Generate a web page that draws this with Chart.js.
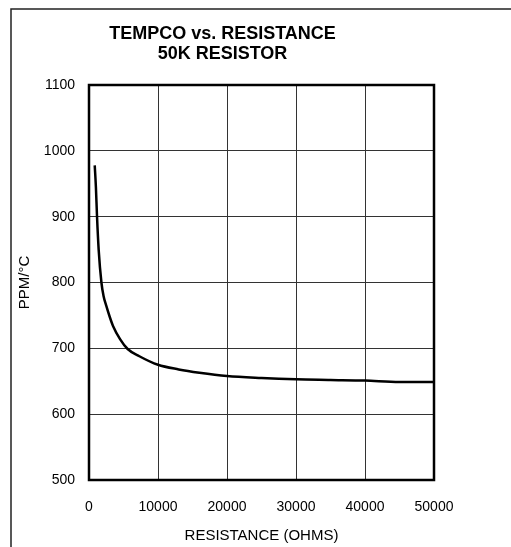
<!DOCTYPE html>
<html>
<head>
<meta charset="utf-8">
<script src="https://cdn.jsdelivr.net/npm/chart.js@4"></script>
<style>
  html, body { margin: 0; padding: 0; background: #fff; }
  #wrap { width: 511px; height: 547px; position: relative; }
</style>
</head>
<body>
<div id="wrap"><canvas id="tempcoChart" width="511" height="547"></canvas></div>
<script>
/** Tempco vs resistance, 50K resistor */

const resistanceOhms = [830, 1000, 1160, 1400, 1800, 2100, 2520, 3000, 3480, 4500, 5600, 7300,
  10000, 13000, 16000, 20000, 25000, 30000, 35000, 40000, 45000, 50000];
const tempcoPpm = [978, 945, 901, 850, 800, 780, 764, 748, 734, 714, 699, 688,
  675, 668, 663, 658, 655, 653, 652, 651, 649, 649];
const titleLines = ['TEMPCO vs. RESISTANCE', '50K RESISTOR'];
const xTitle = 'RESISTANCE (OHMS)';
const yTitle = 'PPM/°C';

const FONT = "'Liberation Sans', Arial, sans-serif";

// outer frame (top + left only) and thick plot box
const framePlugin = {
  id: 'frame',
  beforeDraw(chart) {
    const c = chart.ctx;
    c.save();
    c.strokeStyle = '#222';
    c.lineWidth = 1.5;
    c.beginPath();
    c.moveTo(11, 547);
    c.lineTo(11, 9);
    c.lineTo(511, 9);
    c.stroke();
    c.restore();
  },
  afterDatasetsDraw(chart) {
    const a = chart.chartArea;
    const c = chart.ctx;
    c.save();
    c.strokeStyle = '#000';
    c.lineWidth = 2.5;
    c.strokeRect(a.left, a.top, a.right - a.left, a.bottom - a.top);
    c.restore();
  }
};

new Chart(document.getElementById('tempcoChart'), {
  type: 'line',
  data: {
    datasets: [{
      data: resistanceOhms.map((x, i) => ({ x, y: tempcoPpm[i] })),
      borderColor: '#000',
      borderWidth: 2.5,
      pointRadius: 0,
      cubicInterpolationMode: 'monotone',
      fill: false
    }]
  },
  options: {
    responsive: false,
    animation: false,
    layout: { padding: { left: 11, top: 9, right: 77, bottom: 0 } },
    plugins: {
      legend: { display: false },
      tooltip: { enabled: false },
      title: {
        display: true,
        text: titleLines,
        color: '#000',
        font: { family: FONT, size: 18, weight: 'bold', lineHeight: '20px' },
        padding: { top: 15.5, bottom: 20.5 }
      }
    },
    scales: {
      x: {
        type: 'linear',
        min: 0,
        max: 50000,
        afterFit(s) { s.height = 67; },
        ticks: { stepSize: 10000, color: '#000', padding: 19, font: { family: FONT, size: 14 }, callback: v => String(v) },
        grid: { color: '#333', lineWidth: 1, drawTicks: false },
        border: { display: false },
        title: { display: true, text: xTitle, color: '#000', font: { family: FONT, size: 15 }, padding: { top: 0, bottom: 2 } }
      },
      y: {
        min: 500,
        max: 1100,
        afterFit(s) { s.width = 78; },
        ticks: { stepSize: 100, color: '#000', padding: 14, font: { family: FONT, size: 14 }, callback: v => String(v) },
        grid: { color: '#333', lineWidth: 1, drawTicks: false },
        border: { display: false },
        title: { display: true, text: yTitle, color: '#000', font: { family: FONT, size: 15 }, padding: { top: 5, bottom: 0 } }
      }
    }
  },
  plugins: [framePlugin]
});
</script>
</body>
</html>
